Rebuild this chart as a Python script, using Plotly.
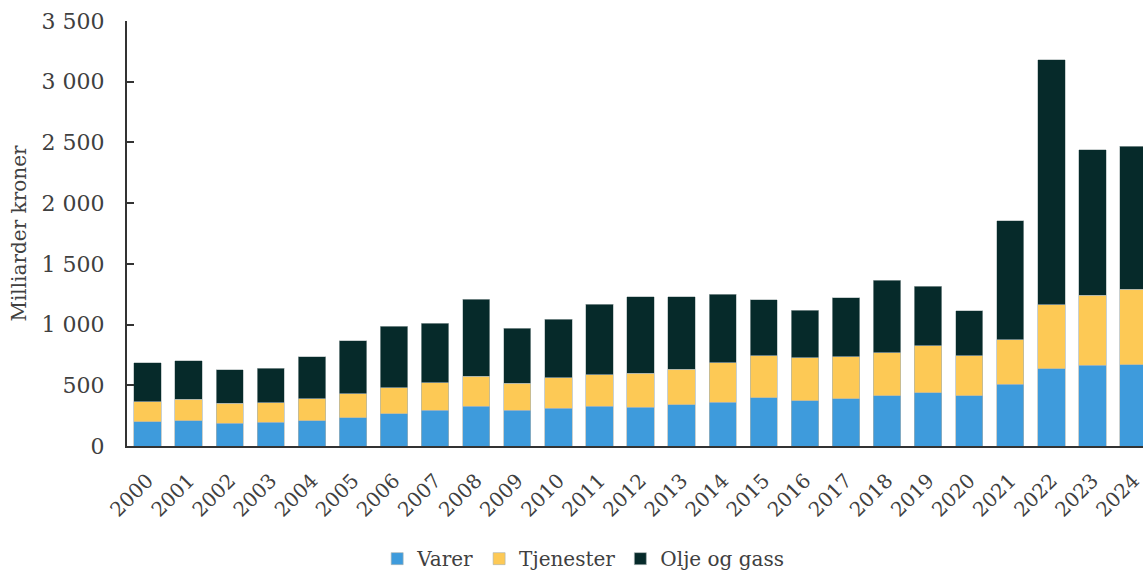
import plotly.graph_objects as go

years = [str(y) for y in range(2000, 2025)]
varer = [200, 209, 187, 195, 209, 231, 266, 294, 327, 294, 310, 327, 318, 338, 360,
         396, 374, 390, 415, 440, 415, 508, 638, 665, 671]
tjenester = [163, 176, 165, 162, 181, 201, 215, 228, 247, 223, 251, 259, 281, 294, 325,
             346, 354, 347, 355, 387, 327, 367, 525, 575, 621]
olje_gass = [322, 316, 278, 284, 344, 434, 506, 487, 633, 451, 484, 582, 630, 597, 566,
             463, 388, 484, 594, 490, 372, 981, 2016, 1199, 1177]

FONT = "Georgia, 'DejaVu Serif', serif"
TXT = "#404040"
edge = dict(color="rgba(170,180,180,0.9)", width=0.7)

fig = go.Figure()
fig.add_trace(go.Bar(x=years, y=varer, name="Varer",
                     marker=dict(color="#3E9BDC", line=edge)))
fig.add_trace(go.Bar(x=years, y=tjenester, name="Tjenester",
                     marker=dict(color="#FDC955", line=edge)))
fig.add_trace(go.Bar(x=years, y=olje_gass, name="Olje og gass",
                     marker=dict(color="#062A2A", line=edge)))

fig.update_layout(
    barmode="stack",
    bargap=0.335,
    width=1143, height=571,
    margin=dict(l=127, r=0, t=21, b=125, autoexpand=False),
    paper_bgcolor="white", plot_bgcolor="white",
    separators=", ",
    font=dict(family=FONT, color=TXT, size=18),
    legend=dict(orientation="h", x=0.449, xanchor="center", y=-0.265, yanchor="middle",
                font=dict(size=20, color=TXT), traceorder="normal",
                itemwidth=30, tracegroupgap=0),
    showlegend=True,
)
fig.update_xaxes(
    type="category", range=[-0.5, 24.23], automargin=False,
    showline=True, linecolor="#333333", linewidth=2,
    ticks="", tickangle=-45, tickfont=dict(size=20, color=TXT),
    ticklabelstandoff=13,
    showgrid=False,
)
fig.update_yaxes(
    range=[0, 3500], dtick=500, tickformat=",d", automargin=False,
    showline=True, linecolor="#333333", linewidth=2,
    ticks="inside", ticklen=7, tickcolor="#333333", tickwidth=2,
    showgrid=False, zeroline=False,
    tickfont=dict(size=22, color=TXT),
    ticklabelstandoff=16,
    title=dict(text="Milliarder kroner", font=dict(size=20, color=TXT), standoff=10),
)

fig.write_html(
    "out.html",
    config={"displayModeBar": False},
    post_script="document.body.style.margin='0';document.body.style.overflow='hidden';",
)
